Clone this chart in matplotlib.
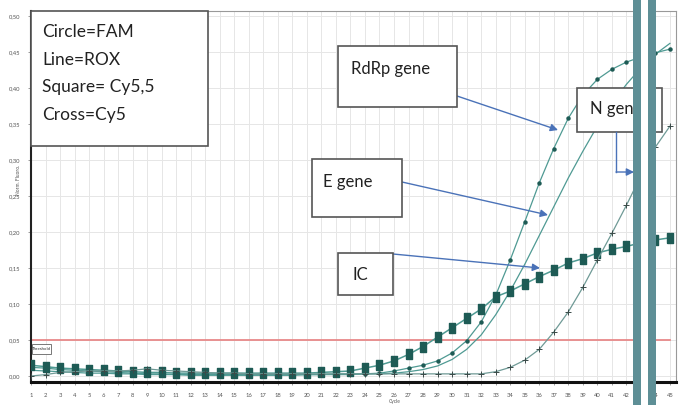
import matplotlib
matplotlib.use("Agg")
import matplotlib.pyplot as plt
from matplotlib.patches import Rectangle
from matplotlib.lines import Line2D
import numpy as np

W, H = 683, 405

cycles = list(range(1, 46))

rdrp_fam = [0.012, 0.011, 0.009, 0.008, 0.007, 0.006, 0.005, 0.004, 0.003, 0.003,
            0.002, 0.002, 0.002, 0.002, 0.002, 0.002, 0.002, 0.002, 0.002, 0.002,
            0.002, 0.003, 0.003, 0.003, 0.004, 0.007, 0.011, 0.015, 0.021, 0.032,
            0.049, 0.075, 0.112, 0.161, 0.214, 0.268, 0.316, 0.358, 0.390, 0.412,
            0.426, 0.436, 0.443, 0.449, 0.454]

e_rox = [0.008, 0.007, 0.006, 0.005, 0.004, 0.004, 0.003, 0.003, 0.002, 0.002,
         0.002, 0.001, 0.001, 0.001, 0.001, 0.001, 0.001, 0.001, 0.001, 0.002,
         0.002, 0.002, 0.002, 0.003, 0.003, 0.004, 0.006, 0.009, 0.014, 0.023,
         0.037, 0.057, 0.085, 0.118, 0.155, 0.195, 0.235, 0.275, 0.312, 0.347,
         0.378, 0.405, 0.428, 0.447, 0.462]

n_cy5 = [0.000, 0.002, 0.005, 0.006, 0.007, 0.007, 0.007, 0.008, 0.010, 0.008,
         0.007, 0.006, 0.005, 0.004, 0.004, 0.003, 0.003, 0.003, 0.003, 0.003,
         0.003, 0.003, 0.003, 0.003, 0.003, 0.003, 0.003, 0.003, 0.003, 0.003,
         0.003, 0.003, 0.006, 0.012, 0.022, 0.037, 0.061, 0.089, 0.123, 0.161,
         0.198, 0.237, 0.278, 0.318, 0.347]

ic_cy55 = [0.015, 0.013, 0.011, 0.010, 0.009, 0.008, 0.007, 0.006, 0.005, 0.005,
           0.004, 0.004, 0.004, 0.004, 0.004, 0.004, 0.004, 0.004, 0.004, 0.004,
           0.005, 0.006, 0.007, 0.011, 0.015, 0.021, 0.030, 0.041, 0.054, 0.067,
           0.080, 0.093, 0.110, 0.118, 0.128, 0.138, 0.147, 0.157, 0.163, 0.171,
           0.176, 0.180, 0.185, 0.189, 0.192]

threshold = 0.05
yticks = [0.00, 0.05, 0.10, 0.15, 0.20, 0.25, 0.30, 0.35, 0.40, 0.45, 0.50]
ytick_labels = ["0,00", "0,05", "0,10", "0,15", "0,20", "0,25", "0,30", "0,35", "0,40", "0,45", "0,50"]
legend_lines = ["Circle=FAM", "Line=ROX", "Square= Cy5,5", "Cross=Cy5"]

plt.rcParams['font.family'] = ['Lato', 'DejaVu Sans']

fig = plt.figure(figsize=(W / 100, H / 100), dpi=100)
ax = fig.add_axes([31 / W, 1 - 382 / H, (676 - 31) / W, (382 - 11) / H])

line_c = '#4f9a93'
mark_c = '#1e5b55'

ax.plot(cycles, e_rox, color=line_c, lw=0.9, zorder=3)
ax.plot(cycles, rdrp_fam, color=line_c, lw=0.9, marker='o', ms=2.2,
        mfc=mark_c, mec=mark_c, zorder=4)
rect_marker = [(-0.28, -0.5), (0.28, -0.5), (0.28, 0.5), (-0.28, 0.5), (-0.28, -0.5)]
ax.plot(cycles, ic_cy55, color=line_c, lw=1.1, marker=rect_marker, ms=6.5,
        mfc=mark_c, mec=mark_c, zorder=4)
ax.plot(cycles, n_cy5, color='#6f9a96', lw=0.9, marker='+', ms=4.5, mew=0.7,
        mec='#3a4a48', zorder=4)

ax.plot([1, 45], [threshold, threshold], color='#e8898a', lw=1.3, zorder=2)

ax.set_xlim(1, 45.42)
ax.set_ylim(-0.0083, 0.507)
ax.set_xticks(cycles)
ax.set_xticklabels([str(c) for c in cycles], fontsize=4.2, color='#555555')
ax.set_yticks(yticks)
ax.set_yticklabels(ytick_labels, fontsize=4.2, color='#555555')
ax.tick_params(axis='both', length=2, width=0.5, color='#777777', pad=6)
ax.grid(True, color='#e6e6e6', lw=0.7)
ax.set_axisbelow(True)
for s in ['top', 'right']:
    ax.spines[s].set_color('#999999')
    ax.spines[s].set_linewidth(0.8)
ax.spines['left'].set_color('#222222')
ax.spines['left'].set_linewidth(1.5)
ax.spines['bottom'].set_color('#111111')
ax.spines['bottom'].set_linewidth(2.2)

fig.text(395 / W, 1 - 402 / H, "Cycle", fontsize=3.5, color='#555555', ha='center', va='center')
fig.text(19 / W, 1 - 180 / H, "Norm. Fluoro.", fontsize=3.5, color='#555555', ha='center',
         va='center', rotation=90)


def fx(x):
    return x / W


def fy(y):
    return 1 - y / H


def box(x0, y0, x1, y1, lw=1.2, ec='#555555'):
    r = Rectangle((fx(x0), fy(y1)), (x1 - x0) / W, (y1 - y0) / H, transform=fig.transFigure,
                  fc='white', ec=ec, lw=lw, zorder=10)
    fig.patches.append(r)


# threshold label
box(32, 344, 51, 354, lw=0.7, ec='#777777')
fig.text(fx(41.5), fy(349), "Threshold", fontsize=3.2, color='#333333', ha='center',
         va='center', zorder=11)

# legend box
box(31, 11, 208, 146)
for i, t in enumerate(legend_lines):
    fig.text(fx(42), fy(32 + i * 27.7), t, fontsize=12.5, color='#222222', ha='left',
             va='center', zorder=11)

# annotation boxes
box(338, 46, 457, 107)
fig.text(fx(351), fy(69), "RdRp gene", fontsize=12, color='#222222', ha='left', va='center', zorder=11)
box(312, 159, 402, 217)
fig.text(fx(323), fy(182), "E gene", fontsize=12, color='#222222', ha='left', va='center', zorder=11)
box(338, 253, 393, 295)
fig.text(fx(352), fy(275), "IC", fontsize=12, color='#222222', ha='left', va='center', zorder=11)
box(577, 88, 662, 132)
fig.text(fx(590), fy(109), "N gene", fontsize=12, color='#222222', ha='left', va='center', zorder=11)

arrow_c = '#4a72b8'


def pix_to_data(x, y):
    return (x - 31) / 14.52 + 1, (376 - y) / 720.0


arrow_kw = dict(arrowstyle='-|>', color=arrow_c, lw=1.0, mutation_scale=11,
                shrinkA=0, shrinkB=0)

for (sx, sy), (tx, ty) in [((457, 96), (558, 130)), ((402, 182), (548, 215)),
                           ((393, 254), (540, 268))]:
    ax.annotate("", xy=pix_to_data(tx, ty), xycoords='data',
                xytext=(fx(sx), fy(sy)), textcoords='figure fraction',
                arrowprops=arrow_kw, zorder=12, annotation_clip=False)

# N gene elbow arrow
fig.lines.append(Line2D([fx(616), fx(616)], [fy(132), fy(172)], transform=fig.transFigure,
                        color=arrow_c, lw=1.0, zorder=12))
ax.annotate("", xy=pix_to_data(634, 172), xycoords='data',
            xytext=(fx(616), fy(172)), textcoords='figure fraction',
            arrowprops=arrow_kw, zorder=12, annotation_clip=False)

# teal bars overlay
bar_c = '#5e8f96'
for x0, x1, c in [(633, 641, bar_c), (641, 648, 'white'), (648, 656, bar_c)]:
    fig.patches.append(Rectangle((fx(x0), 0), (x1 - x0) / W, 1, transform=fig.transFigure,
                                 fc=c, ec='none', zorder=20))

fig.savefig("out.png", dpi=100)
